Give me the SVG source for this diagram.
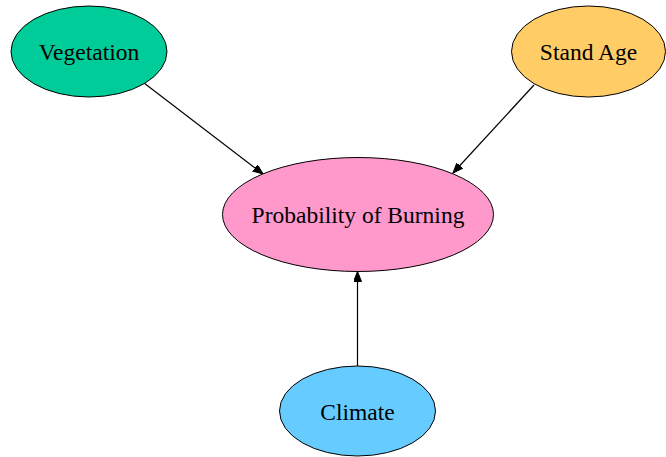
<svg xmlns="http://www.w3.org/2000/svg" width="666" height="457" viewBox="0 0 666 457">
<style>
  .node ellipse { stroke: #000; stroke-width: 1; }
  .node text { font-family: "Liberation Serif", "Times New Roman", serif; font-size: 23.5px; text-anchor: middle; fill: #000; }
  .edges line { stroke: #000; stroke-width: 1.2; marker-end: url(#arrow); }
</style>
<defs>
  <marker id="arrow" markerUnits="userSpaceOnUse" markerWidth="11" markerHeight="9" refX="10" refY="4" orient="auto">
    <path d="M0,0 L10,4 L0,8 Z" fill="#000" stroke="#000" stroke-width="1"/>
  </marker>
</defs>
<rect width="666" height="457" fill="#fff"/>
<g class="edges">
  <line x1="144" y1="83" x2="263" y2="174"/>
  <line x1="534" y1="85" x2="453" y2="173"/>
  <line x1="357.5" y1="366" x2="357.5" y2="271.5"/>
</g>
<g id="vegetation" class="node">
  <ellipse cx="89" cy="51.5" rx="78" ry="45.5" fill="#00CC99"/>
  <text x="89" y="60">Vegetation</text>
</g>
<g id="standage" class="node">
  <ellipse cx="588.5" cy="51.5" rx="77" ry="45.5" fill="#FFCC66"/>
  <text x="588.5" y="60">Stand Age</text>
</g>
<g id="probability" class="node">
  <ellipse cx="358" cy="214.5" rx="135.5" ry="57" fill="#FF99CC"/>
  <text x="358" y="223">Probability of Burning</text>
</g>
<g id="climate" class="node">
  <ellipse cx="357.5" cy="411" rx="78" ry="45" fill="#66CCFF"/>
  <text x="357.5" y="419.5">Climate</text>
</g>
</svg>
